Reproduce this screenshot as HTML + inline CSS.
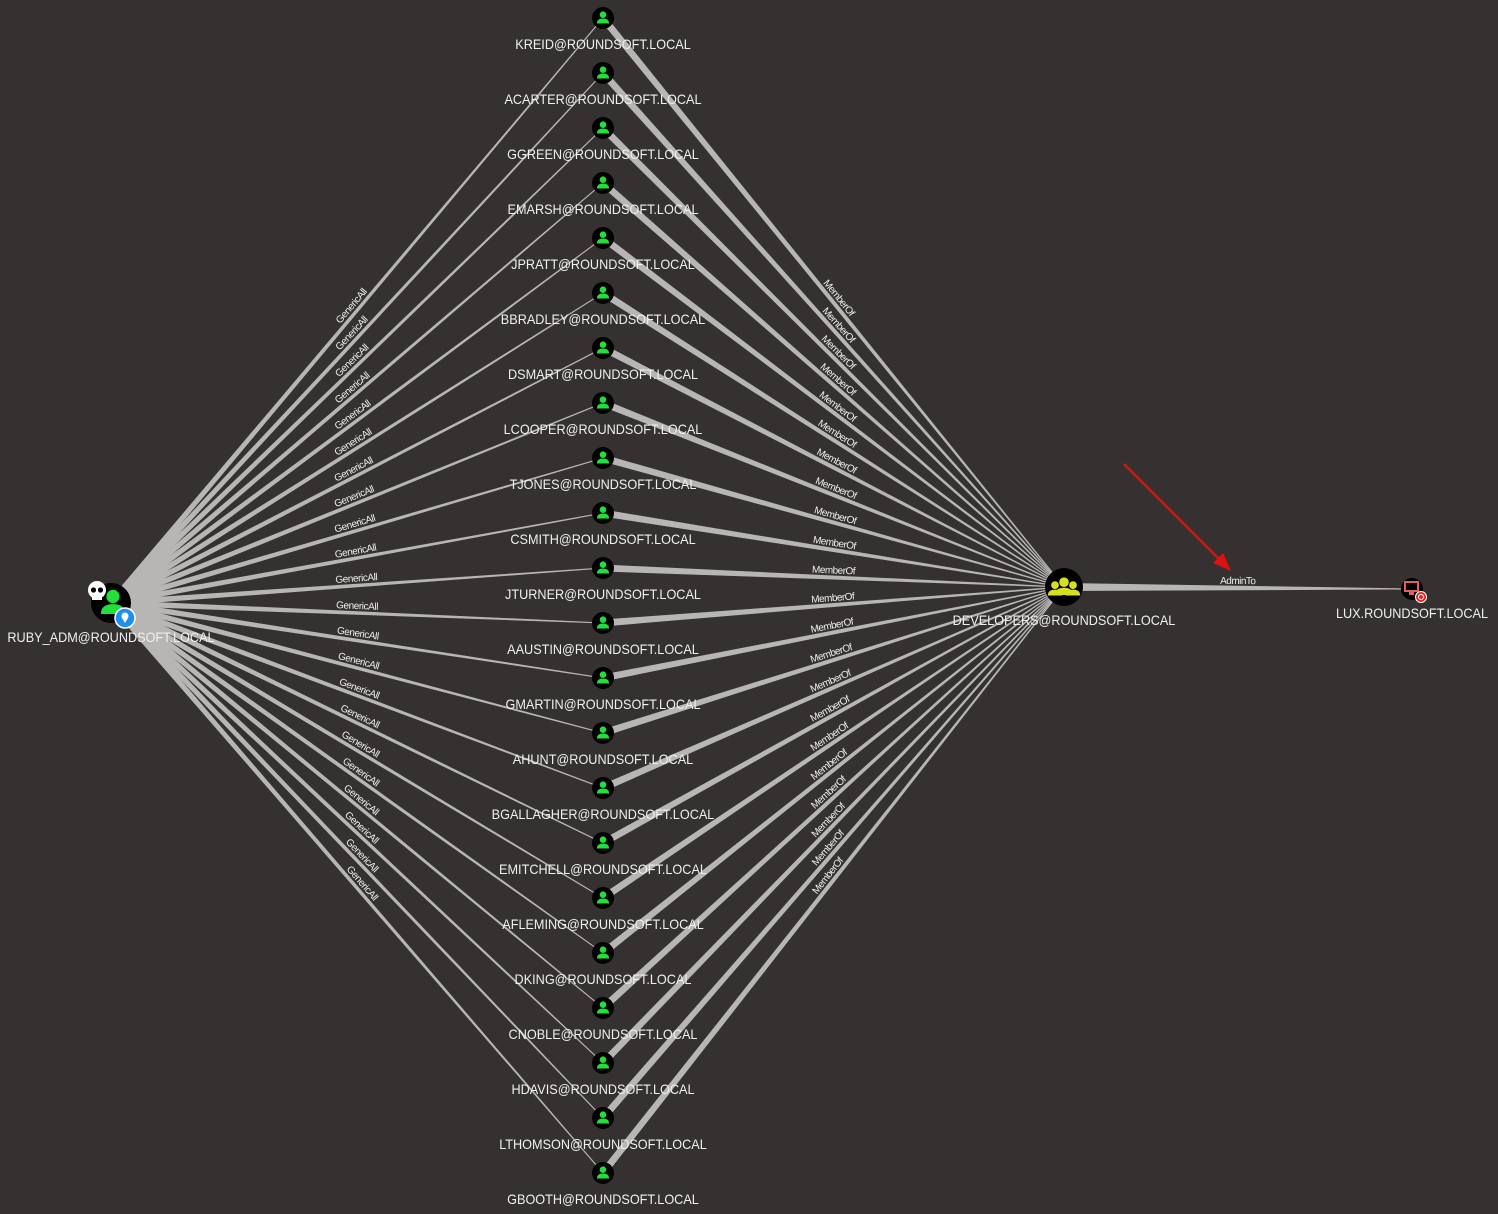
<!DOCTYPE html>
<html><head><meta charset="utf-8"><style>
html,body{margin:0;padding:0;background:#363131;}
svg{display:block;font-family:"Liberation Sans",sans-serif;}
</style></head><body>
<svg id="g" width="1498" height="1214" viewBox="0 0 1498 1214">
<rect width="1498" height="1214" fill="#363131"/>
<g id="edges"></g>
<g id="nodes"></g>
<g>
<line x1="1124" y1="464" x2="1222" y2="562" stroke="#e01010" stroke-width="2.5"/>
<polygon points="1231,571 1213,563 1223,553" fill="#e01010"/>
</g>
</svg>
<script>
const users = ["KREID","ACARTER","GGREEN","EMARSH","JPRATT","BBRADLEY","DSMART","LCOOPER","TJONES","CSMITH","JTURNER","AAUSTIN","GMARTIN","AHUNT","BGALLAGHER","EMITCHELL","AFLEMING","DKING","CNOBLE","HDAVIS","LTHOMSON","GBOOTH"];
const domain = "ROUNDSOFT.LOCAL";
const edgeTypes = ["GenericAll","MemberOf","AdminTo"];
const NS="http://www.w3.org/2000/svg";
const E=document.getElementById('edges'), N=document.getElementById('nodes');
function mk(t,a,p){const e=document.createElementNS(NS,t);for(const k in a)e.setAttribute(k,a[k]);(p||N).appendChild(e);return e;}
const ruby={x:111,y:603}, dev={x:1064,y:587}, lux={x:1412,y:589};
const userX=603, userY0=18, userDy=55;
function uy(i){return userY0+i*userDy;}
function edge(a,b,w0,w1,label,name){
  const dx=b.x-a.x,dy=b.y-a.y,L=Math.hypot(dx,dy),nx=-dy/L,ny=dx/L;
  const g=mk('g',{},E);
  
  
  mk('polygon',{points:[a.x+nx*w0/2,a.y+ny*w0/2,b.x+nx*w1/2,b.y+ny*w1/2,b.x-nx*w1/2,b.y-ny*w1/2,a.x-nx*w0/2,a.y-ny*w0/2].join(','),fill:'#b8b5b5'},g);
  let ang=Math.atan2(dy,dx)*180/Math.PI; if(ang>90)ang-=180; if(ang<-90)ang+=180;
  const mx=(a.x+b.x)/2,my=(a.y+b.y)/2;
  const t=mk('text',{x:0,y:-4,'font-size':10,fill:'#eeeeee','text-anchor':'middle',transform:`translate(${mx},${my}) rotate(${ang})`},g);
  t.textContent=label;
  
  
  const w=t.getComputedTextLength(); if(w) t.setAttribute('textLength', (w*0.92).toFixed(1));
}
users.forEach((u,i)=>{
  const p={x:userX,y:uy(i)};
  edge(ruby,p,6,1,edgeTypes[0],'genericall-edge-'+u.toLowerCase());
  edge(p,dev,7,1,edgeTypes[1],'memberof-edge-'+u.toLowerCase());
});
edge(dev,lux,8,1,edgeTypes[2],'adminto-edge');
function userIcon(x,y,r,col,g){
  mk('circle',{cx:x,cy:y-r*0.3,r:r*0.3,fill:col},g);
  mk('path',{d:`M${x-r*0.55},${y+r*0.5} Q${x-r*0.55},${y+r*0.05} ${x},${y+r*0.05} Q${x+r*0.55},${y+r*0.05} ${x+r*0.55},${y+r*0.5} Z`,fill:col},g);
}
function label(x,y,txt){
  const t=mk('text',{x:x,y:y,'font-size':14,fill:'#f0f0f0','text-anchor':'middle'});
  t.textContent=txt;
  
  
  const w=t.getComputedTextLength(); if(w){t.setAttribute('textLength',(w*0.905).toFixed(1));t.setAttribute('lengthAdjust','spacingAndGlyphs');}
}
users.forEach((u,i)=>{
  const y=uy(i);
  const g=mk('g',{});
  
  
  mk('circle',{cx:userX,cy:y,r:11,fill:'#000'},g);
  userIcon(userX,y,11,'#22e03a',g);
  label(userX,y+31,u+'@'+domain);
});
(function(){
  const g=mk('g',{});
  
  
  mk('circle',{cx:ruby.x,cy:ruby.y,r:20,fill:'#000'},g);
  userIcon(ruby.x+2,ruby.y,22,'#22e03a',g);
  mk('circle',{cx:97,cy:590,r:9,fill:'#fff'},g);
  mk('rect',{x:92,y:595,width:10,height:5,fill:'#fff'},g);
  mk('circle',{cx:93.5,cy:590,r:2.6,fill:'#000'},g);
  mk('circle',{cx:100.5,cy:590,r:2.6,fill:'#000'},g);
  mk('circle',{cx:125,cy:618,r:10,fill:'#1e8ef0',stroke:'#fff','stroke-width':1.5},g);
  mk('circle',{cx:125,cy:616,r:3.5,fill:'#fff'},g);
  mk('path',{d:'M121.8,617.5 L125,623 L128.2,617.5 Z',fill:'#fff'},g);
  label(111,642,'RUBY_ADM@'+domain);
})();
(function(){
  const g=mk('g',{});
  
  
  mk('circle',{cx:dev.x,cy:dev.y,r:19,fill:'#000'},g);
  const c='#d4e020';
  userIcon(dev.x-9,dev.y+2,13,c,g);userIcon(dev.x+9,dev.y+2,13,c,g);userIcon(dev.x,dev.y,16,c,g);
  label(dev.x,625,'DEVELOPERS@'+domain);
})();
(function(){
  const g=mk('g',{});
  
  
  mk('circle',{cx:lux.x,cy:lux.y,r:11,fill:'#000'},g);
  mk('rect',{x:1405,y:582,width:13,height:9,fill:'none',stroke:'#e06060','stroke-width':2},g);
  mk('rect',{x:1409,y:592,width:5,height:3,fill:'#e06060'},g);
  mk('circle',{cx:1421,cy:597,r:5.5,fill:'#e02828',stroke:'#fff','stroke-width':1},g);
  mk('circle',{cx:1421,cy:597,r:2.5,fill:'none',stroke:'#fff','stroke-width':1},g);
  label(lux.x,618,'LUX.'+domain);
})();
</script>
</body></html>
